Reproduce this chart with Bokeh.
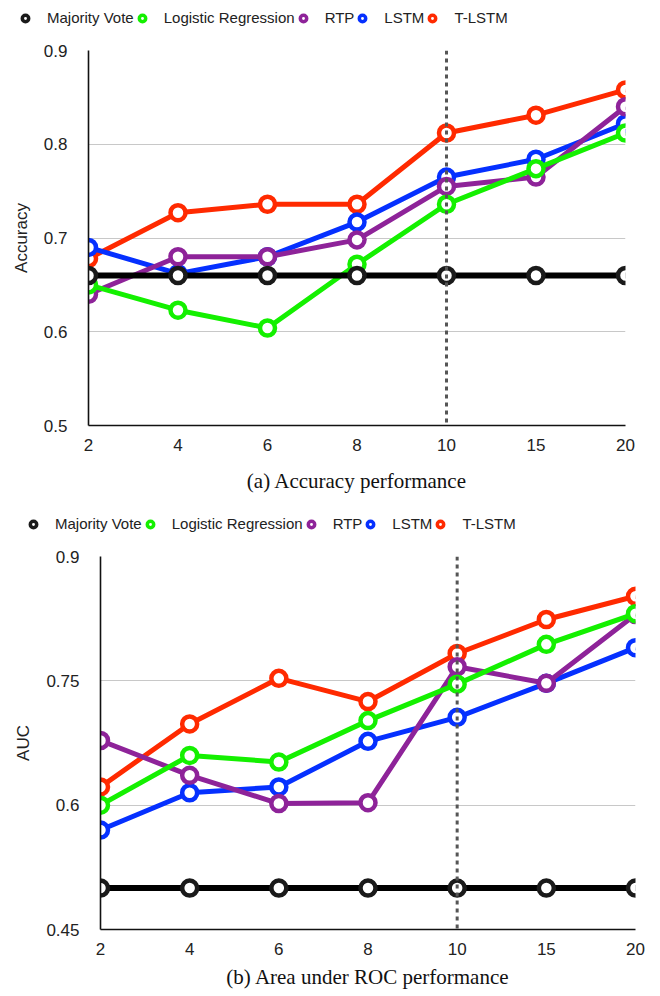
from bokeh.plotting import figure
from bokeh.models import Legend, LegendItem, Title, Span, FixedTicker, Range1d
from bokeh.embed import file_html
from bokeh.resources import INLINE

# ---- data ----
x_labels = ["2", "4", "6", "8", "10", "15", "20"]
series_names = ["Majority Vote", "Logistic Regression", "RTP", "LSTM", "T-LSTM"]

acc_majority = [0.66, 0.66, 0.66, 0.66, 0.66, 0.66, 0.66]
acc_logreg = [0.650, 0.623, 0.604, 0.672, 0.736, 0.774, 0.812]
acc_rtp = [0.640, 0.680, 0.680, 0.698, 0.755, 0.765, 0.840]
acc_lstm = [0.690, 0.662, 0.680, 0.717, 0.765, 0.784, 0.822]
acc_tlstm = [0.678, 0.727, 0.736, 0.736, 0.812, 0.831, 0.858]
acc_ticks = [0.5, 0.6, 0.7, 0.8, 0.9]

auc_majority = [0.50, 0.50, 0.50, 0.50, 0.50, 0.50, 0.50]
auc_logreg = [0.600, 0.660, 0.652, 0.702, 0.746, 0.794, 0.831]
auc_rtp = [0.678, 0.636, 0.602, 0.603, 0.767, 0.747, 0.830]
auc_lstm = [0.570, 0.615, 0.622, 0.677, 0.706, 0.747, 0.790]
auc_tlstm = [0.622, 0.698, 0.753, 0.725, 0.783, 0.824, 0.852]
auc_ticks = [0.45, 0.6, 0.75, 0.9]

split_label = "10"

colors = {
    "Majority Vote": "#000000",
    "Logistic Regression": "#14f000",
    "RTP": "#8e2399",
    "LSTM": "#0530ff",
    "T-LSTM": "#ff2a00",
}
draw_order = ["T-LSTM", "LSTM", "RTP", "Logistic Regression", "Majority Vote"]

SANS = "Liberation Sans"
SERIF = "Liberation Serif"
W = 652


def marker_color(name):
    return "#1a1a1a" if name == "Majority Vote" else colors[name]


def make_legend(height, loc):
    q = figure(output_backend="svg", toolbar_location=None, width=W, height=height,
               min_border=0, min_border_left=0, min_border_right=0,
               min_border_top=0, min_border_bottom=0,
               x_axis_type=None, y_axis_type=None,
               x_range=Range1d(0, 1), y_range=Range1d(0, 1))
    q.outline_line_color = None
    q.xgrid.visible = False
    q.ygrid.visible = False
    items = []
    for name in series_names:
        r = q.scatter(x=[float("nan")], y=[float("nan")], marker="circle",
                      size=15, fill_color="white",
                      line_color=marker_color(name), line_width=3.5)
        items.append(LegendItem(label=name, renderers=[r]))
    legend = Legend(items=items, orientation="horizontal", location=loc,
                    glyph_width=16, glyph_height=16, label_standoff=14,
                    spacing=0, padding=0, margin=0,
                    label_text_font=SANS, label_text_font_size="15px",
                    label_text_color="#222222",
                    border_line_color=None, background_fill_alpha=0)
    q.add_layout(legend, "center")
    return q


def make_chart(values, ticks, ylabel, caption, left, right, top, bottom,
               fw, fh, cap_standoff):
    xs = list(range(len(x_labels)))
    p = figure(output_backend="svg", toolbar_location=None,
               frame_width=fw, frame_height=fh,
               min_border_left=left, min_border_right=right,
               min_border_top=top, min_border_bottom=bottom,
               x_range=Range1d(xs[0], xs[-1]),
               y_range=Range1d(ticks[0], ticks[-1]))
    p.outline_line_color = None

    for name in draw_order:
        c = colors[name]
        lw = 6 if name == "Majority Vote" else 5
        p.line(xs, values[name], line_color=c, line_width=lw)
        p.scatter(xs, values[name], marker="circle", size=15,
                  fill_color="white", line_color=marker_color(name),
                  line_width=4.5)

    span = Span(location=x_labels.index(split_label), dimension="height",
                line_color="#555555", line_width=3, line_dash="4 4")
    p.add_layout(span)

    p.xaxis.ticker = FixedTicker(ticks=xs)
    p.xaxis.major_label_overrides = {i: lab for i, lab in enumerate(x_labels)}
    p.yaxis.ticker = FixedTicker(ticks=ticks)
    p.yaxis.major_label_overrides = {t: ("%g" % t) for t in ticks}
    for ax in (p.xaxis[0], p.yaxis[0]):
        ax.major_tick_line_color = None
        ax.minor_tick_line_color = None
        ax.major_tick_out = 0
        ax.major_tick_in = 0
        ax.axis_line_color = "#111111"
        ax.axis_line_width = 1.6
        ax.major_label_text_font = SANS
        ax.major_label_text_font_size = "17px"
        ax.major_label_text_color = "#222222"
    p.xaxis.major_label_standoff = 13
    p.yaxis.major_label_standoff = 21
    p.yaxis.axis_label = ylabel
    p.yaxis.axis_label_text_font = SANS
    p.yaxis.axis_label_text_font_size = "17px"
    p.yaxis.axis_label_text_font_style = "normal"
    p.yaxis.axis_label_text_color = "#222222"
    p.yaxis.axis_label_standoff = 10

    p.xgrid.grid_line_color = None
    p.ygrid.grid_line_color = "#c8c8c8"
    p.ygrid.grid_line_width = 1

    t = Title(text=caption, align="center", text_font=SERIF,
              text_font_size="21px", text_font_style="normal",
              text_color="#111111", standoff=cap_standoff)
    p.add_layout(t, "below")
    return p


acc_values = {
    "Majority Vote": acc_majority, "Logistic Regression": acc_logreg,
    "RTP": acc_rtp, "LSTM": acc_lstm, "T-LSTM": acc_tlstm,
}
auc_values = {
    "Majority Vote": auc_majority, "Logistic Regression": auc_logreg,
    "RTP": auc_rtp, "LSTM": auc_lstm, "T-LSTM": auc_tlstm,
}

leg1 = make_legend(38, (17, 12))
p1 = make_chart(acc_values, acc_ticks, "Accuracy", "(a) Accuracy performance",
                left=88, right=27, top=12, bottom=85, fw=537, fh=375,
                cap_standoff=26)
leg2 = make_legend(30, (25, 8))
p2 = make_chart(auc_values, auc_ticks, "AUC", "(b) Area under ROC performance",
                left=100, right=17, top=16, bottom=59, fw=535, fh=373,
                cap_standoff=10)

open("out.html", "w").write(file_html([leg1, p1, leg2, p2], INLINE))
